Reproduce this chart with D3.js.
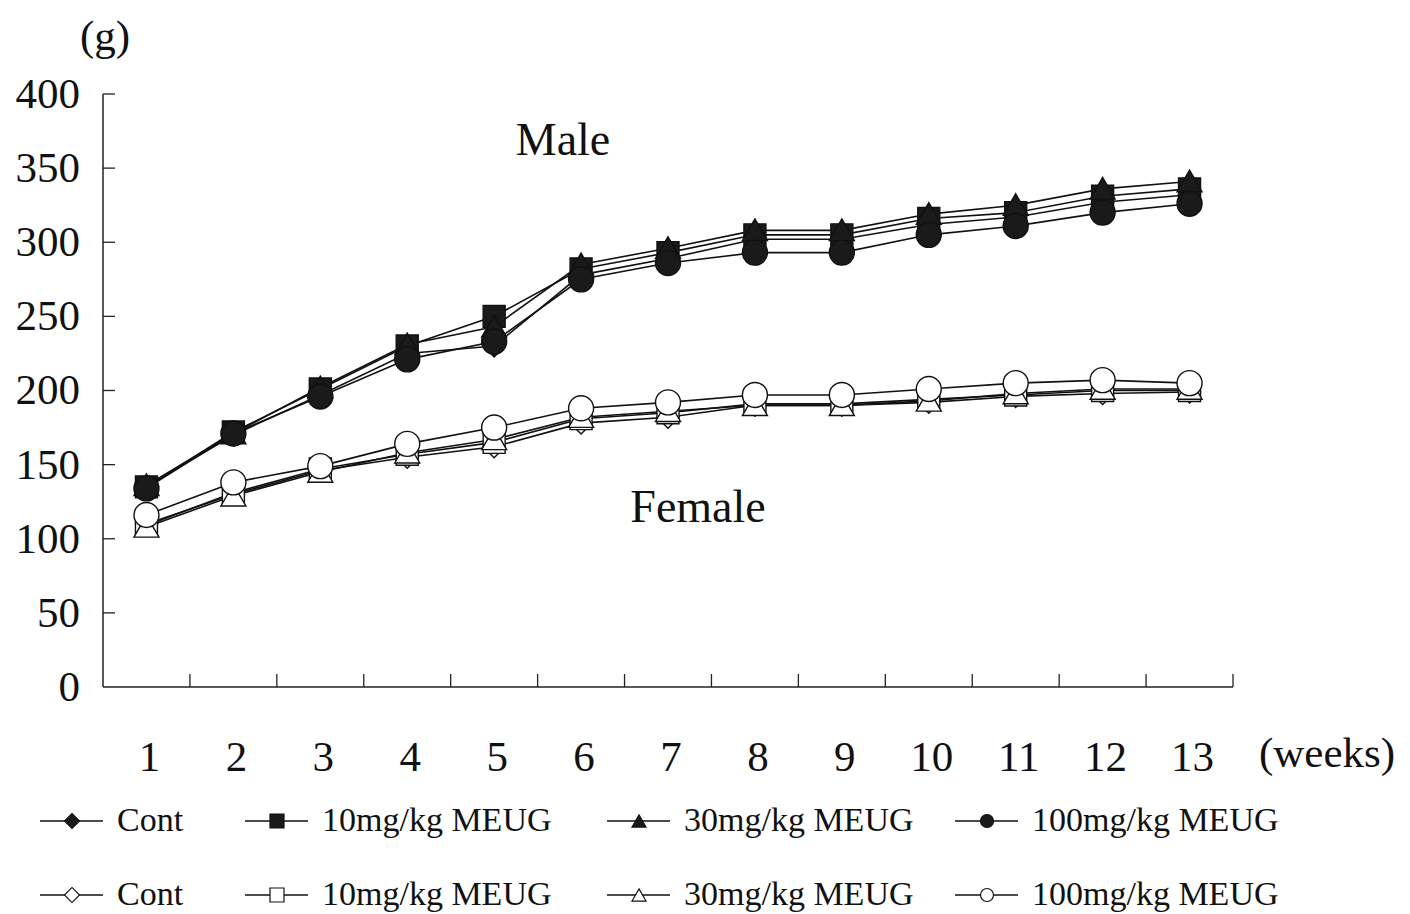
<!DOCTYPE html>
<html><head><meta charset="utf-8">
<script src="https://cdn.jsdelivr.net/npm/d3@7"></script>
<style>
html,body{margin:0;padding:0;background:#fff;}
text{font-family:"Liberation Serif","Times New Roman",serif;fill:#111;}
</style></head>
<body><svg id="c" width="1410" height="914"></svg>
<script>
const weeks = ["1","2","3","4","5","6","7","8","9","10","11","12","13"];
const yTicks = [0,50,100,150,200,250,300,350,400];
const seriesNames = ["Cont","10mg/kg MEUG","30mg/kg MEUG","100mg/kg MEUG"];
const maleCont  = [135,170,197,225,230,278,289,302,302,312,317,327,332];
const male10    = [135,172,201,230,250,282,293,305,305,316,320,331,336];
const male30    = [136,171,202,231,243,285,296,308,308,319,325,336,341];
const male100   = [134,171,196,221,233,275,286,293,293,305,311,320,326];
const femaleCont = [110,130,146,155,162,178,182,190,190,192,196,198,199];
const female10   = [109,131,147,157,165,181,185,191,191,194,197,200,200];
const female30   = [108,129,145,158,167,182,186,190,190,193,198,201,201];
const female100  = [116,138,149,164,175,188,192,197,197,201,205,207,205];

const svg = d3.select("#c");
const x = d3.scaleBand().domain(weeks).range([103,1233]).padding(0);
const y = d3.scaleLinear().domain([0,400]).range([687,94]);

const shapes = ["diamond","square","triangle","circle"];
function sym(shape, s){
  // s = nominal width in px
  if(shape==="square") return d3.symbol(d3.symbolSquare, s*s)();
  if(shape==="circle") return d3.symbol(d3.symbolCircle, Math.PI*s*s/4)();
  if(shape==="triangle") return d3.symbol(d3.symbolTriangle, Math.sqrt(3)/4*s*s)();
  // diamond: rotated square with diagonal s
  return d3.symbol(d3.symbolSquare, s*s/2)();
}
function symTransform(shape, px, py){
  return shape==="diamond" ? `translate(${px},${py}) rotate(45)` : `translate(${px},${py})`;
}
const markerSize = {diamond:22, square:22, triangle:25, circle:25};

// axes
const g = svg.append("g");
g.append("line").attr("x1",103).attr("x2",103).attr("y1",y(400)).attr("y2",y(0)).attr("stroke","#222").attr("stroke-width",1.5);
g.append("line").attr("x1",103).attr("x2",1233).attr("y1",y(0)).attr("y2",y(0)).attr("stroke","#222").attr("stroke-width",1.5);
g.selectAll(".yt").data(yTicks.filter(d=>d>0)).enter().append("line")
  .attr("x1",103).attr("x2",115).attr("y1",d=>y(d)).attr("y2",d=>y(d)).attr("stroke","#222").attr("stroke-width",1.3);
g.selectAll(".yl").data(yTicks).enter().append("text")
  .attr("x",80).attr("y",d=>y(d)+4).attr("text-anchor","end").attr("dominant-baseline","middle")
  .attr("font-size",43).text(d=>d);
const bounds = weeks.slice(1).map(w=>x(w)).concat([x.range()[1]]);
g.selectAll(".xt").data(bounds).enter().append("line")
  .attr("x1",d=>d).attr("x2",d=>d).attr("y1",y(0)).attr("y2",y(0)-13).attr("stroke","#222").attr("stroke-width",1.3);
g.selectAll(".xl").data(weeks).enter().append("text")
  .attr("x",d=>x(d)+x.bandwidth()/2+3).attr("y",761).attr("text-anchor","middle").attr("dominant-baseline","middle")
  .attr("font-size",43).text(d=>d);
svg.append("text").attr("x",1327).attr("y",757).attr("text-anchor","middle").attr("dominant-baseline","middle").attr("font-size",43).text("(weeks)");
svg.append("text").attr("x",105).attr("y",40).attr("text-anchor","middle").attr("dominant-baseline","middle").attr("font-size",43).text("(g)");
svg.append("text").attr("x",563).attr("y",144).attr("text-anchor","middle").attr("dominant-baseline","middle").attr("font-size",46).text("Male");
svg.append("text").attr("x",698).attr("y",511).attr("text-anchor","middle").attr("dominant-baseline","middle").attr("font-size",46).text("Female");

const groups = [
  {vals:[maleCont,male10,male30,male100], fill:"#1a1a1a"},
  {vals:[femaleCont,female10,female30,female100], fill:"#fff"}
];
const line = d3.line().x((d,i)=>x(weeks[i])+x.bandwidth()/2).y(d=>y(d));
groups.forEach(gr=>{
  gr.vals.forEach(v=>{
    svg.append("path").attr("d",line(v)).attr("fill","none").attr("stroke","#111").attr("stroke-width",1.6);
  });
});
groups.forEach(gr=>{
  gr.vals.forEach((v,si)=>{
    const sh = shapes[si];
    svg.append("g").selectAll("path").data(v).enter().append("path")
      .attr("d",sym(sh, markerSize[sh]))
      .attr("transform",(d,i)=>symTransform(sh, x(weeks[i])+x.bandwidth()/2, y(d) + (sh==="triangle"?3:0)))
      .attr("fill",gr.fill).attr("stroke","#111").attr("stroke-width",1.4);
  });
});

// legend
const legX = [40,245,607,955];
const legRowY = [821,895];
groups.forEach((gr,ri)=>{
  seriesNames.forEach((name,si)=>{
    const lx = legX[si], ly = legRowY[ri], sh = shapes[si];
    svg.append("line").attr("x1",lx).attr("x2",lx+63).attr("y1",ly).attr("y2",ly).attr("stroke","#111").attr("stroke-width",1.3);
    const ms = sh==="circle"?13:(sh==="diamond"?15:14);
    svg.append("path").attr("d",sym(sh,ms)).attr("transform",symTransform(sh,lx+32,ly+(sh==="triangle"?2:0)))
      .attr("fill",gr.fill).attr("stroke","#111").attr("stroke-width",1.2);
    svg.append("text").attr("x",lx+77).attr("y",ly+2).attr("dominant-baseline","middle").attr("font-size",34).text(name);
  });
});
</script></body></html>
